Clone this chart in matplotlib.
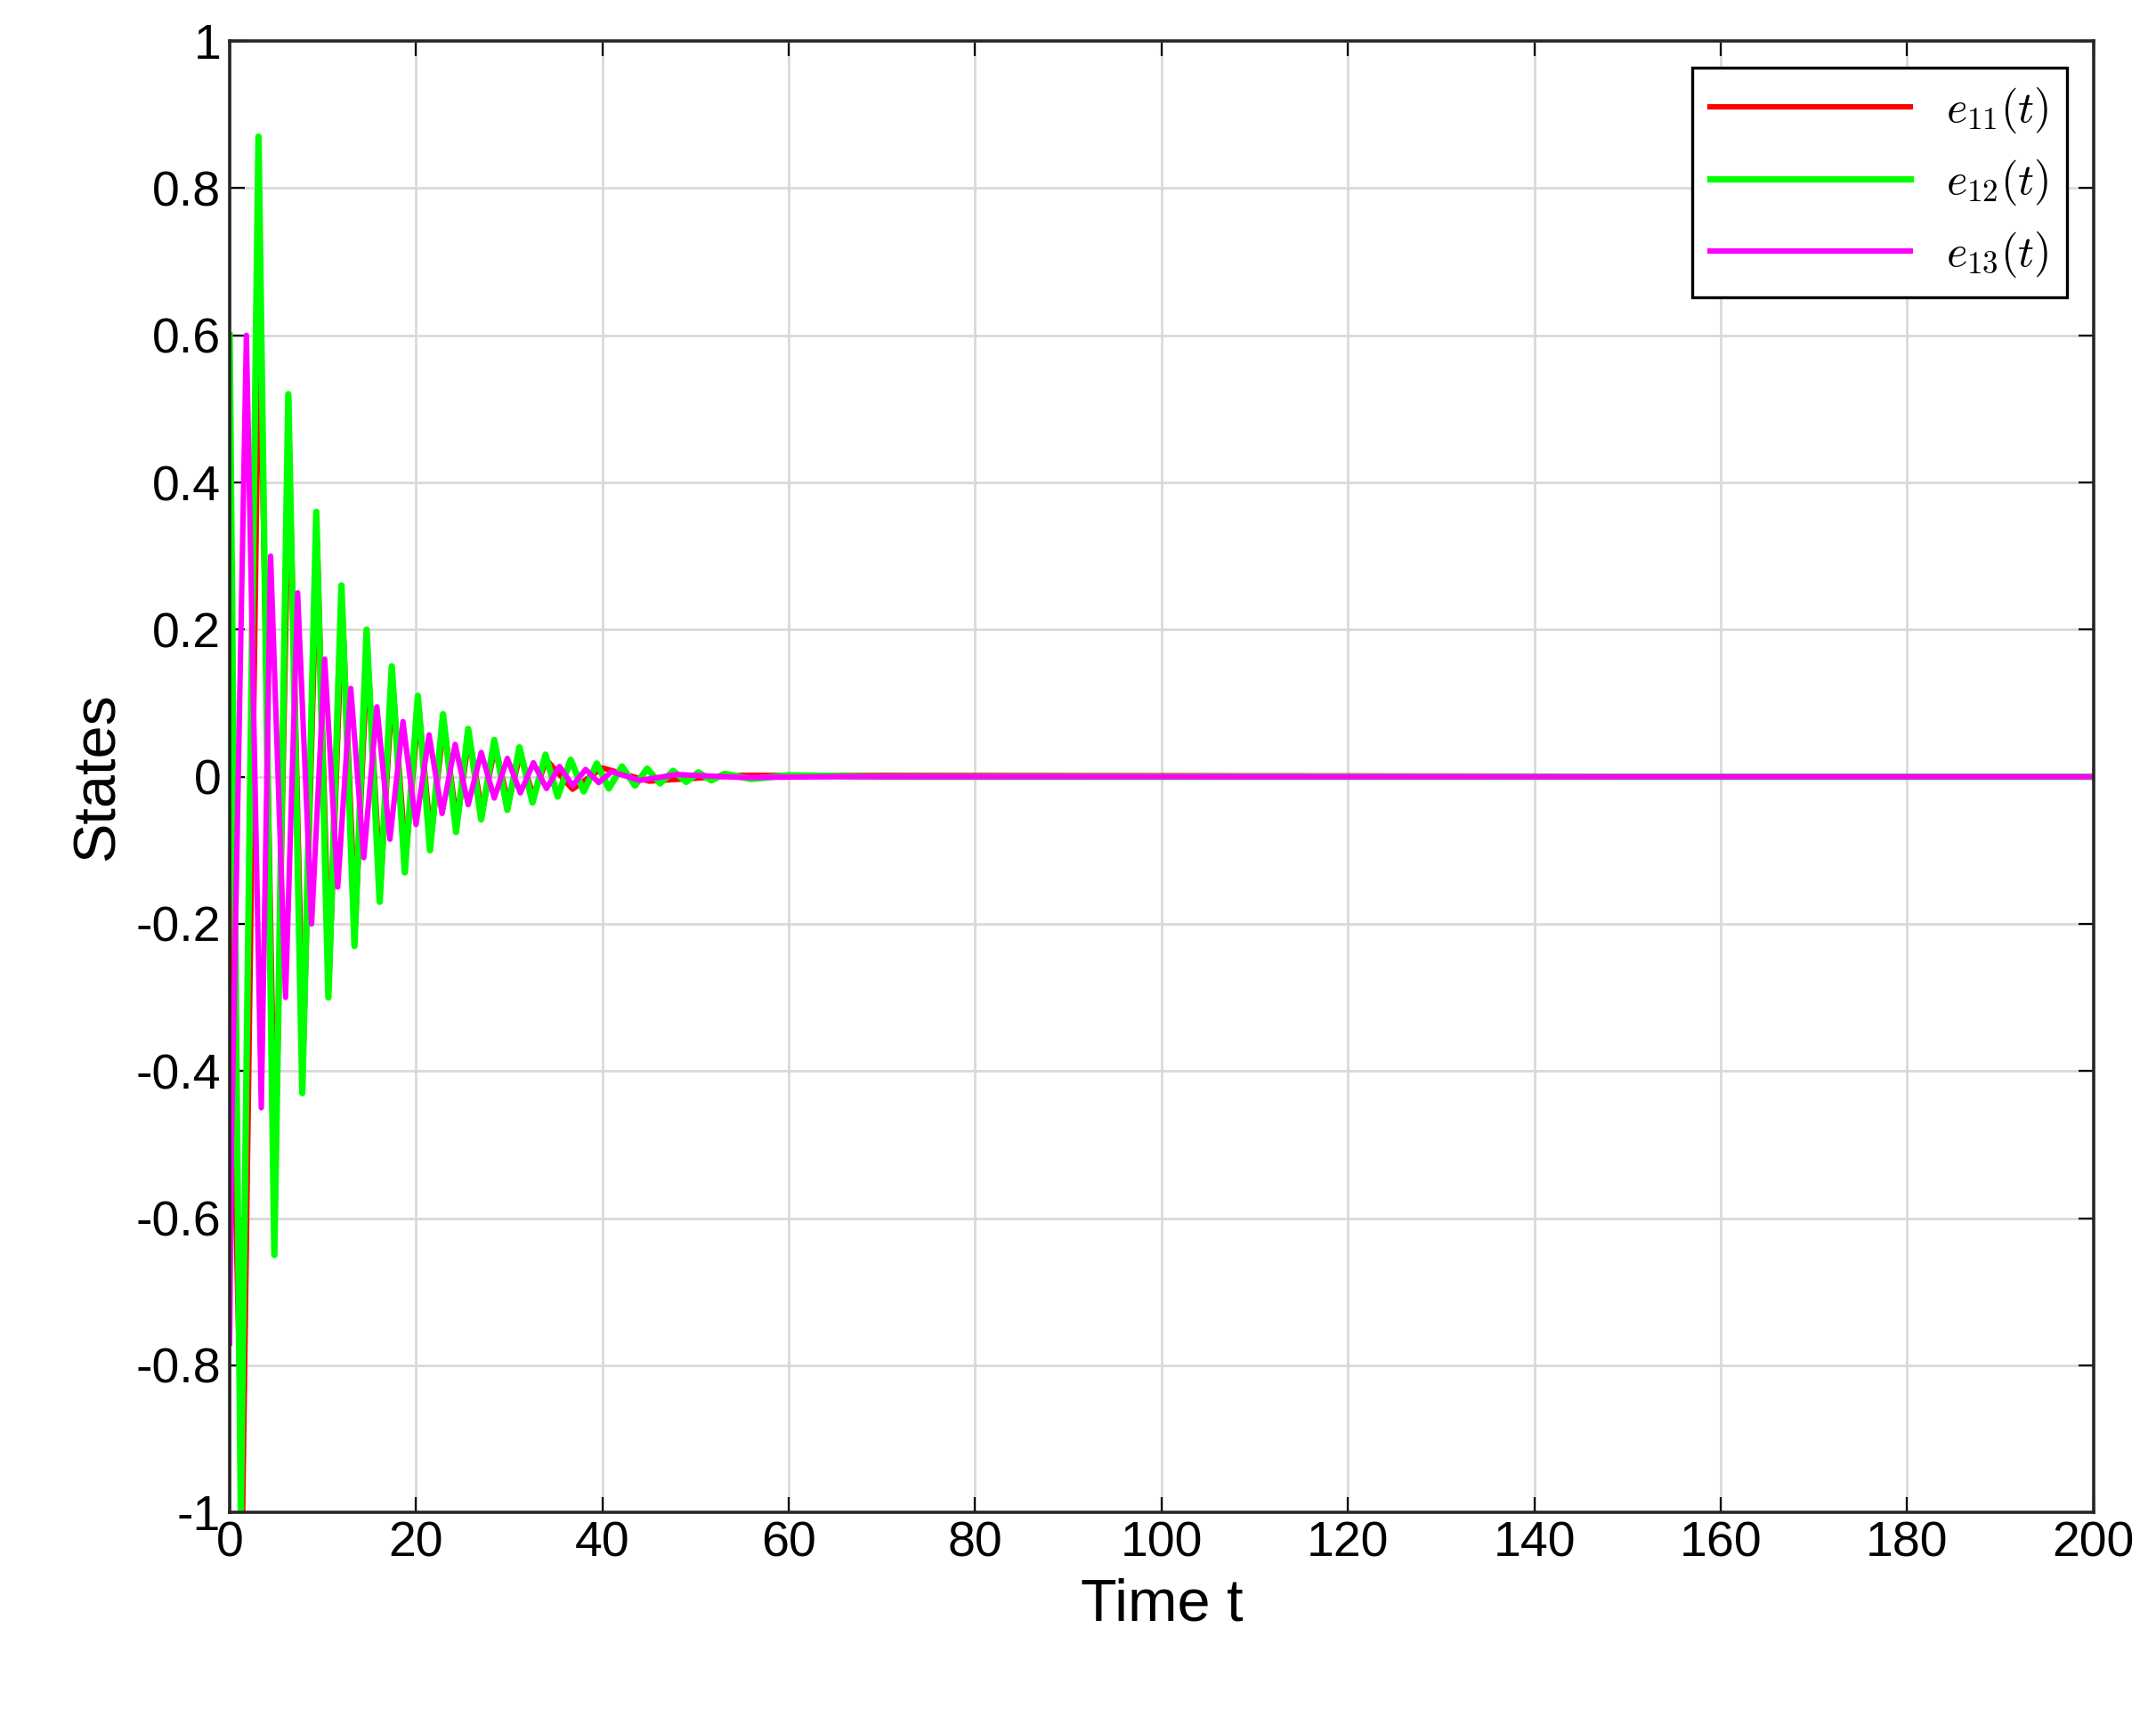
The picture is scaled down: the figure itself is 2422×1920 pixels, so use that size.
import matplotlib
matplotlib.use('Agg')
import matplotlib.pyplot as plt

# extrema (time, value)
t_e12 = [0, 0.4, 1.2, 3.1, 4.8, 6.3, 7.8, 9.3, 10.6, 12.0, 13.4, 14.7, 16.1, 17.4, 18.8, 20.2, 21.5,
         22.9, 24.3, 25.6, 27.0, 28.4, 29.8, 31.1, 32.5, 33.9, 35.2, 36.6, 38.0, 39.4, 40.7, 42.1,
         43.5, 44.8, 46.2, 47.6, 49.0, 50.3, 51.7, 53.1, 56, 60, 70, 200]
v_e12 = [0.6, 0.05, -1.0, 0.87, -0.65, 0.52, -0.43, 0.36, -0.30, 0.26, -0.23, 0.20, -0.17, 0.15, -0.13,
         0.11, -0.10, 0.085, -0.075, 0.065, -0.058, 0.05, -0.045, 0.04, -0.035, 0.03, -0.027, 0.023,
         -0.02, 0.018, -0.016, 0.014, -0.012, 0.011, -0.009, 0.008, -0.007, 0.006, -0.005, 0.004,
         -0.003, 0.002, 0.0, 0.0]

t_e11 = [0, 0.5, 1.4, 3.2, 4.9, 6.4, 7.9, 9.4, 10.7, 12.1, 13.5, 14.8, 16.2, 17.5, 18.9, 20.3, 21.6,
         23.0, 24.4, 25.7, 27.1, 28.5, 29.9, 31.2, 32.6, 34.0, 36.8, 40, 45, 55, 200]
v_e11 = [0.1, -0.5, -1.0, 0.65, -0.55, 0.45, -0.38, 0.32, -0.27, 0.23, -0.2, 0.17, -0.15, 0.13, -0.11,
         0.095, -0.085, 0.073, -0.064, 0.055, -0.048, 0.042, -0.036, 0.031, -0.027, 0.023, -0.017,
         0.012, -0.006, 0.002, 0.0]

t_e13 = [0, 0.2, 1.8, 3.4, 4.4, 6.0, 7.3, 8.8, 10.2, 11.6, 13.0, 14.4, 15.8, 17.2, 18.6, 20.0, 21.4,
         22.8, 24.2, 25.6, 27.0, 28.4, 29.8, 31.2, 32.6, 34.0, 35.4, 36.8, 38.2, 39.6, 41, 44, 48,
         55, 65, 200]
v_e13 = [-0.77, -0.5, 0.6, -0.45, 0.3, -0.3, 0.25, -0.2, 0.16, -0.15, 0.12, -0.11, 0.095, -0.085,
         0.075, -0.065, 0.057, -0.05, 0.044, -0.038, 0.033, -0.029, 0.025, -0.022, 0.019, -0.016,
         0.014, -0.012, 0.01, -0.008, 0.007, -0.005, 0.003, -0.001, 0.0, 0.0]

plt.rcParams['font.family'] = ['Liberation Sans', 'DejaVu Sans']
plt.rcParams['mathtext.fontset'] = 'cm'

fig = plt.figure(figsize=(12.11, 9.6), dpi=200)
ax = fig.add_axes([0.1065, 0.115, 0.8645, 0.861])

ax.plot(t_e11, v_e11, color='red', lw=2.2, label=r'$e_{11}(t)$')
ax.plot(t_e12, v_e12, color='#00ff00', lw=2.6, label=r'$e_{12}(t)$')
ax.plot(t_e13, v_e13, color='magenta', lw=2.2, label=r'$e_{13}(t)$')

ax.set_xlim(0, 200)
ax.set_ylim(-1, 1)
ax.set_xticks(range(0, 201, 20))
ax.set_yticks([-1, -0.8, -0.6, -0.4, -0.2, 0, 0.2, 0.4, 0.6, 0.8, 1])
ax.set_yticklabels(['-1', '-0.8', '-0.6', '-0.4', '-0.2', '0', '0.2', '0.4', '0.6', '0.8', '1'])
ax.grid(True, color='#d9d9d9', lw=1.0)
ax.tick_params(labelsize=20, direction='in', length=6, top=True, right=True)
for s in ax.spines.values():
    s.set_linewidth(1.3)
    s.set_color('#262626')
ax.set_xlabel('Time t', fontsize=24)
ax.set_ylabel('States', fontsize=24)

leg = ax.legend(loc='upper right', fontsize=18, fancybox=False, framealpha=1,
                edgecolor='black', handlelength=4.5, borderaxespad=0.6)
leg.get_frame().set_linewidth(1.2)

fig.savefig('out.png')
